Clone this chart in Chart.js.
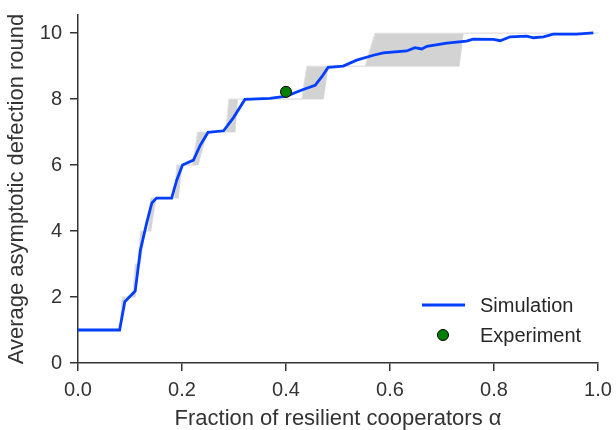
<!DOCTYPE html>
<html>
<head>
<meta charset="utf-8">
<script src="https://cdn.jsdelivr.net/npm/chart.js@4/dist/chart.umd.min.js"></script>
<style>
  html, body { margin: 0; padding: 0; background: #fff; }
  #wrap { width: 616px; height: 430px; }
</style>
</head>
<body>
<div id="wrap"><canvas id="myChart" width="616" height="430"></canvas></div>
<script>
// simulation curve
const simX = [0, 0.08, 0.09, 0.11, 0.12, 0.132, 0.142, 0.151, 0.18, 0.19, 0.201, 0.222, 0.235, 0.25, 0.28, 0.299, 0.321, 0.369, 0.401, 0.433, 0.456, 0.469, 0.481, 0.51, 0.536, 0.568, 0.587, 0.632, 0.648, 0.661, 0.671, 0.709, 0.747, 0.76, 0.799, 0.812, 0.831, 0.863, 0.876, 0.895, 0.914, 0.959, 0.991];
const simY = [1, 1, 1.86, 2.18, 3.42, 4.24, 4.85, 5.0, 5.0, 5.55, 6.0, 6.15, 6.6, 6.99, 7.04, 7.44, 7.99, 8.02, 8.09, 8.29, 8.42, 8.68, 8.96, 9.0, 9.18, 9.33, 9.40, 9.46, 9.56, 9.52, 9.6, 9.70, 9.76, 9.82, 9.81, 9.77, 9.89, 9.91, 9.86, 9.89, 9.97, 9.97, 10.01];

// grey band (upper / lower step bounds)
const bandHiX = [0, 0.08, 0.085, 0.105, 0.11, 0.115, 0.12, 0.135, 0.14, 0.185, 0.19, 0.22, 0.23, 0.284, 0.29, 0.43, 0.44, 0.552, 0.571, 1.0];
const bandHiY = [1, 1, 2, 2, 3, 3, 4, 4, 5, 5, 6, 6, 7, 7, 8, 8, 9, 9, 10, 10];
const bandLoX = [0, 0.08, 0.09, 0.11, 0.115, 0.12, 0.128, 0.14, 0.15, 0.193, 0.2, 0.231, 0.248, 0.302, 0.307, 0.472, 0.481, 0.733, 0.741, 1.0];
const bandLoY = [1, 1, 2, 2, 3, 3, 4, 4, 5, 5, 6, 6, 7, 7, 8, 8, 9, 9, 10, 10];

// experiment
const expX = [0.4];
const expY = [8.22];

const xTicks = [0, 0.2, 0.4, 0.6, 0.8, 1.0];
const yTicks = [0, 2, 4, 6, 8, 10];

const FONT = "'Liberation Sans', Arial, sans-serif";
const AXIS = '#333333';

const toPts = (xs, ys) => xs.map((x, i) => ({ x: x, y: ys[i] }));

// legend drawn inside the plot, lower right
const innerLegend = {
    id: 'innerLegend',
    afterDraw(chart) {
        const c = chart.ctx;
        const items = chart.data.datasets
            .filter(d => d.legendLabel)
            .sort((a, b) => a.legendRank - b.legendRank);
        c.save();
        c.font = '20px ' + FONT;
        c.textBaseline = 'middle';
        items.forEach((d, i) => {
            const y = 305 + i * 30;
            if (d.type === 'scatter') {
                c.beginPath();
                c.arc(443, y, 5.5, 0, Math.PI * 2);
                c.fillStyle = d.backgroundColor;
                c.fill();
                c.lineWidth = 1;
                c.strokeStyle = '#000';
                c.stroke();
            } else {
                c.strokeStyle = d.borderColor;
                c.lineWidth = d.borderWidth;
                c.beginPath();
                c.moveTo(422, y);
                c.lineTo(465, y);
                c.stroke();
            }
            c.fillStyle = '#262626';
            c.fillText(d.legendLabel, 480, y + 1);
        });
        c.restore();
    }
};

const ctx = document.getElementById('myChart').getContext('2d');

const myChart = new Chart(ctx, {
    type: 'line',
    data: {
        datasets: [
            {
                legendLabel: 'Experiment',
                legendRank: 1,
                type: 'scatter',
                data: toPts(expX, expY),
                backgroundColor: '#008000',
                borderColor: '#000',
                borderWidth: 1,
                pointRadius: 5.5,
                order: 0
            },
            {
                legendLabel: 'Simulation',
                legendRank: 0,
                data: toPts(simX, simY),
                borderColor: '#023eff',
                borderWidth: 2.8,
                pointRadius: 0,
                fill: false,
                tension: 0,
                order: 1
            },
            {
                data: toPts(bandHiX, bandHiY),
                borderColor: '#e2e2e2',
                borderWidth: 1,
                backgroundColor: '#d3d3d3',
                pointRadius: 0,
                fill: '+1',
                order: 2
            },
            {
                data: toPts(bandLoX, bandLoY),
                borderColor: '#e2e2e2',
                borderWidth: 1,
                pointRadius: 0,
                fill: false,
                order: 3
            }
        ]
    },
    options: {
        responsive: false,
        animation: false,
        layout: {
            padding: { left: 0, right: 18, top: 15, bottom: 0 }
        },
        plugins: {
            legend: { display: false },
            tooltip: { enabled: false }
        },
        scales: {
            x: {
                type: 'linear',
                min: 0,
                max: 1,
                afterBuildTicks: (s) => { s.ticks = xTicks.map(v => ({ value: v })); },
                afterFit: (s) => {
                    s.height = 67;
                    s.paddingLeft = 0;
                    s.paddingRight = 0;
                },
                ticks: {
                    color: AXIS,
                    font: { family: FONT, size: 20 },
                    padding: 7,
                    maxRotation: 0,
                    callback: (v) => v.toFixed(1)
                },
                grid: {
                    drawOnChartArea: false,
                    drawTicks: true,
                    tickLength: 8,
                    color: AXIS,
                    lineWidth: 1.5
                },
                border: { color: AXIS, width: 1.5 },
                title: {
                    display: true,
                    text: 'Fraction of resilient cooperators α',
                    color: AXIS,
                    font: { family: FONT, size: 22, lineHeight: 1 },
                    padding: { top: 0, bottom: 0 }
                }
            },
            y: {
                type: 'linear',
                min: 0,
                max: 10.55,
                afterBuildTicks: (s) => { s.ticks = yTicks.map(v => ({ value: v })); },
                afterFit: (s) => {
                    s.width = 78;
                    s.paddingTop = 0;
                    s.paddingBottom = 0;
                },
                ticks: {
                    color: AXIS,
                    font: { family: FONT, size: 20 },
                    padding: 8,
                    callback: (v) => String(v)
                },
                grid: {
                    drawOnChartArea: false,
                    drawTicks: true,
                    tickLength: 8,
                    color: AXIS,
                    lineWidth: 1.5
                },
                border: { color: AXIS, width: 1.5 },
                title: {
                    display: true,
                    text: 'Average asymptotic defection round',
                    color: AXIS,
                    font: { family: FONT, size: 22, lineHeight: 1 },
                    padding: { top: 6, bottom: 0 }
                }
            }
        }
    },
    plugins: [innerLegend]
});
</script>
</body>
</html>
